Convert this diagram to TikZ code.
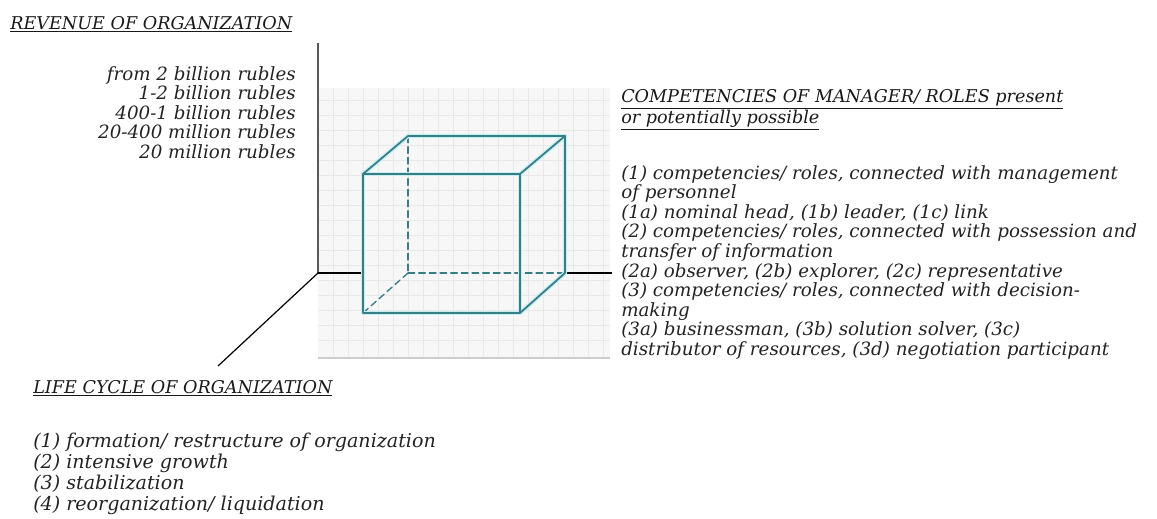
\documentclass[tikz,border=0pt]{standalone}
\usepackage{fontspec}
\setmainfont{DejaVu Serif}
\usepackage{tikz}
\definecolor{bleucube}{RGB}{56,124,134}
\definecolor{halocube}{RGB}{196,240,244}
\definecolor{fondgris}{RGB}{247,247,247}
\definecolor{grillegris}{RGB}{232,232,232}
\definecolor{ombregris}{RGB}{205,205,205}
\definecolor{texte}{RGB}{35,35,35}
\tikzstyle{legende} = [font=\itshape\fontsize{13.7}{14.7}\selectfont, text=texte, inner sep=0pt, align=left]
\tikzstyle{titre} = [legende, font=\itshape\fontsize{13.2}{14.7}\selectfont, text=black!90]
\tikzstyle{arete} = [draw=bleucube, line width=1.3pt, line cap=round, line join=round]
\tikzstyle{cachee} = [arete, line width=1pt, dashed, dash pattern=on 5pt off 3pt]
\tikzstyle{halo} = [draw=halocube, line width=3.2pt, line cap=round, line join=round]
\tikzstyle{axe} = [draw=black, line width=0.9pt]

\begin{document}
\begin{tikzpicture}[x=0.75pt, y=-0.75pt]

        \useasboundingbox (0,0) rectangle (1157,518);

        %% background
        \fill[fondgris] (318,88) rectangle (610,358);
        \foreach \gx in {333,348,...,603} \draw[grillegris, line width=0.5pt] (\gx,88) -- (\gx,356);
        \foreach \gy in {100,115,...,350} \draw[grillegris, line width=0.5pt] (318,\gy) -- (610,\gy);
        \draw[ombregris, line width=1.5pt] (318,358) -- (610,358);

        %% axes
        \coordinate (O) at (318,273);
        \coordinate (Yh) at (318,43);
        \coordinate (Xd) at (612,273);
        \coordinate (Zb) at (218,366);
        \draw[axe, draw=black!65] (O) -- (Yh);
        \draw[axe] (O) -- (Zb);

        %% cube
        \coordinate (A) at (363,174);
        \coordinate (B) at (520,174);
        \coordinate (C) at (520,313);
        \coordinate (D) at (363,313);
        \coordinate (E) at (408,136);
        \coordinate (F) at (565,136);
        \coordinate (G) at (565,273);
        \coordinate (H) at (408,273);

        \draw[axe] (O) -- (D |- O);
        \draw[axe] (G) -- (Xd);

        \draw[cachee] (E) -- (H);
        \draw[cachee] (H) -- (G);
        \draw[cachee] (H) -- (D);

        \draw[halo] (A) -- (B) -- (C) -- (D) -- cycle;
        \draw[halo] (A) -- (E) -- (F) -- (B);
        \draw[halo] (F) -- (G) -- (C);
        \draw[arete] (A) -- (B) -- (C) -- (D) -- cycle;
        \draw[arete] (A) -- (E) -- (F) -- (B);
        \draw[arete] (F) -- (G) -- (C);

        %% revenue
        \node (revtitre) [titre, anchor=base west] at (10,29) {\underline{REVENUE OF ORGANIZATION}};
        \node (revenu) [legende, align=right, anchor=north east] at (296,66) {from 2 billion rubles\\
            1-2 billion rubles\\
            400-1 billion rubles\\
            20-400 million rubles\\
            20 million rubles};

        %% competencies
        \node (comptitre) [titre, anchor=north west] at (621,89) {\underline{COMPETENCIES OF MANAGER/ ROLES present}\\
            \underline{or potentially possible}};
        \node (comp) [legende, anchor=north west] at (621,165) {(1) competencies/ roles, connected with management\\
            of personnel\\
            (1a) nominal head, (1b) leader, (1c) link\\
            (2) competencies/ roles, connected with possession and\\
            transfer of information\\
            (2a) observer, (2b) explorer, (2c) representative\\
            (3) competencies/ roles, connected with decision-\\
            making\\
            (3a) businessman, (3b) solution solver, (3c)\\
            distributor of resources, (3d) negotiation participant};

        %% life cycle
        \node (cycletitre) [titre, anchor=base west] at (33,393) {\underline{LIFE CYCLE OF ORGANIZATION}};
        \node (cycle) [legende, font=\itshape\fontsize{14.3}{15.6}\selectfont, anchor=north west] at (33,433) {(1) formation/ restructure of organization\\
            (2) intensive growth\\
            (3) stabilization\\
            (4) reorganization/ liquidation};

    \end{tikzpicture}
\end{document}
